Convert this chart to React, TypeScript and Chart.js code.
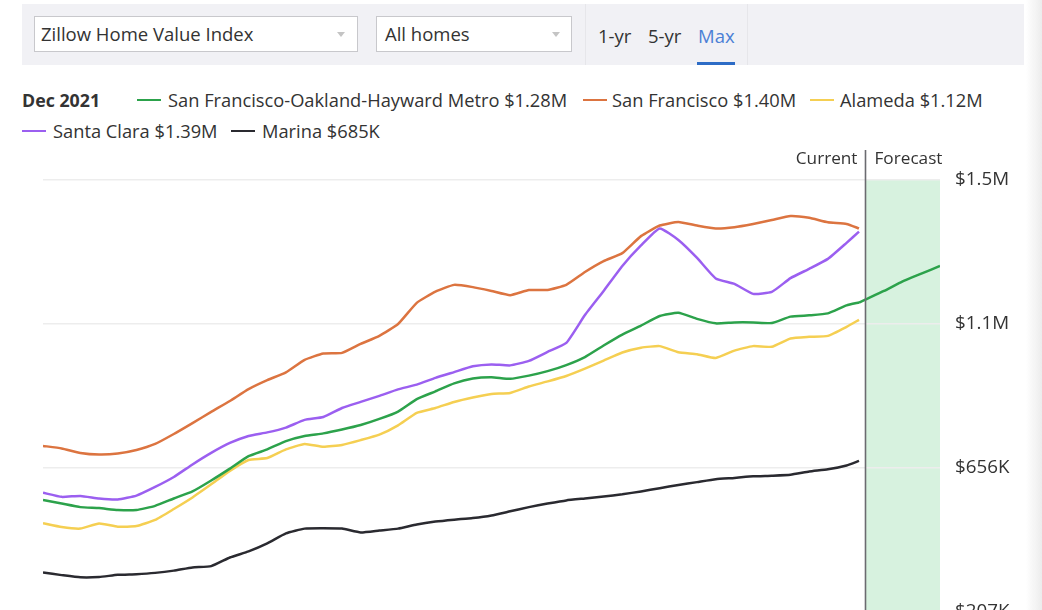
import React, { useEffect, useRef } from "react";
import { Chart, registerables } from "chart.js";
Chart.register(...registerables);

// ---------- data (values in $K) ----------
const historyDates: string[] = [
  "2011-01", "2011-04", "2011-07", "2011-10", "2012-01", "2012-04", "2012-07", "2012-10",
  "2013-01", "2013-04", "2013-07", "2013-10", "2014-01", "2014-04", "2014-07", "2014-10",
  "2015-01", "2015-04", "2015-07", "2015-10", "2016-01", "2016-04", "2016-07", "2016-10",
  "2017-01", "2017-04", "2017-07", "2017-10", "2018-01", "2018-04", "2018-07", "2018-10",
  "2019-01", "2019-04", "2019-07", "2019-10", "2020-01", "2020-04", "2020-07", "2020-10",
  "2021-01", "2021-04", "2021-07", "2021-10", "2021-12",
];

const metroValues: number[] = [
  556, 545, 534, 531, 525, 525, 538, 561, 583, 617, 654, 693, 714, 740, 756, 764,
  776, 790, 809, 832, 871, 895, 920, 935, 939, 934, 944, 958, 977, 1002, 1038, 1072,
  1100, 1130, 1140, 1121, 1107, 1110, 1110, 1108, 1128, 1132, 1138, 1163, 1172,
];
const sanFranciscoValues: number[] = [
  725, 717, 703, 698, 701, 712, 731, 762, 796, 831, 865, 902, 930, 954, 993, 1013,
  1015, 1043, 1068, 1105, 1171, 1206, 1227, 1220, 1208, 1195, 1211, 1211, 1227, 1267, 1301, 1326,
  1379, 1412, 1423, 1412, 1403, 1407, 1417, 1429, 1442, 1436, 1422, 1417, 1403,
];
const alamedaValues: number[] = [
  484, 472, 467, 483, 473, 475, 494, 528, 564, 605, 647, 681, 687, 714, 731, 722,
  728, 743, 760, 789, 828, 843, 862, 876, 887, 890, 910, 926, 943, 966, 991, 1016,
  1031, 1036, 1017, 1011, 999, 1022, 1036, 1034, 1060, 1065, 1068, 1096, 1118,
];
const santaClaraValues: number[] = [
  579, 566, 569, 561, 558, 570, 597, 628, 667, 703, 734, 756, 767, 782, 806, 815,
  843, 862, 881, 901, 916, 937, 955, 973, 979, 976, 990, 1018, 1046, 1133, 1208, 1286,
  1350, 1403, 1367, 1311, 1247, 1230, 1199, 1205, 1248, 1277, 1308, 1358, 1393,
];
const marinaValues: number[] = [
  330, 322, 315, 316, 323, 325, 329, 336, 346, 350, 377, 396, 421, 452, 467, 468,
  467, 455, 461, 467, 480, 489, 495, 500, 508, 521, 534, 545, 555, 561, 567, 574,
  583, 593, 603, 612, 621, 625, 630, 632, 635, 645, 652, 664, 678,
];

const forecastDates: string[] = ["2021-12", "2022-01", "2022-04", "2022-07", "2022-10", "2023-01"];
const metroForecast: number[] = [1172, 1181, 1208, 1238, 1262, 1286];
const forecastStartDate = "2022-01";

const yTicks: number[] = [207, 656, 1105, 1554];

const seriesNames: string[] = [
  "San Francisco-Oakland-Hayward Metro",
  "San Francisco",
  "Alameda",
  "Santa Clara",
  "Marina",
];
const legendValues: string[] = ["$1.28M", "$1.40M", "$1.12M", "$1.39M", "$685K"];
const seriesColors: string[] = ["#2ca24b", "#dc7440", "#f5cf52", "#9b5ff0", "#2a2a30"];
const legendDate = "Dec 2021";

// ---------- helpers ----------
const monthIndex = (s: string) => {
  const [y, m] = s.split("-").map(Number);
  return (y - 2011) * 12 + (m - 1);
};
const toPoints = (dates: string[], vals: number[]) =>
  dates.map((d, i) => ({ x: monthIndex(d), y: vals[i] }));

const fmtTick = (v: number) =>
  v >= 1000 ? "$" + (Math.floor(v / 100) / 10).toFixed(1) + "M" : "$" + Math.round(v) + "K";

const FONT = "'Open Sans', sans-serif";

const ChartCanvas: React.FC = () => {
  const ref = useRef<HTMLCanvasElement | null>(null);
  useEffect(() => {
    if (!ref.current) return;
    const forecastX = monthIndex(forecastStartDate);
    const overlay = {
      id: "forecastOverlay",
      beforeDraw(chart: any) {
        const { ctx, chartArea, scales } = chart;
        const x0 = scales.x.getPixelForValue(forecastX);
        ctx.save();
        ctx.fillStyle = "#d7f2df";
        ctx.fillRect(x0, chartArea.top, chartArea.right - x0, chart.height - chartArea.top);
        ctx.restore();
      },
      afterDraw(chart: any) {
        const { ctx, scales } = chart;
        const x0 = Math.round(scales.x.getPixelForValue(forecastX)) + 0.5;
        ctx.save();
        ctx.strokeStyle = "#6b6b70";
        ctx.lineWidth = 1.6;
        ctx.beginPath();
        ctx.moveTo(x0, 10);
        ctx.lineTo(x0, chart.height);
        ctx.stroke();
        ctx.fillStyle = "#333";
        ctx.font = "17.2px " + FONT;
        ctx.textBaseline = "middle";
        ctx.textAlign = "right";
        ctx.fillText("Current", x0 - 8, 19);
        ctx.textAlign = "left";
        ctx.fillText("Forecast", x0 + 9, 19);
        ctx.restore();
      },
    };
    const hist = [metroValues, sanFranciscoValues, alamedaValues, santaClaraValues, marinaValues];
    const datasets: any[] = hist.map((vals, i) => ({
      label: seriesNames[i],
      data: toPoints(historyDates, vals),
      borderColor: seriesColors[i],
      borderWidth: 2.5,
      pointRadius: 0,
      tension: 0.15,
      fill: false,
    }));
    datasets.push({
      label: seriesNames[0] + " forecast",
      data: toPoints(forecastDates, metroForecast),
      borderColor: seriesColors[0],
      borderWidth: 2.5,
      pointRadius: 0,
      tension: 0.15,
      fill: false,
    });
    const chart = new Chart(ref.current, {
      type: "line",
      data: { datasets },
      options: {
        animation: false,
        responsive: false,
        maintainAspectRatio: false,
        layout: { padding: { left: 43, top: 40, bottom: 28, right: 0 } },
        plugins: { legend: { display: false }, tooltip: { enabled: false } },
        scales: {
          x: { type: "linear", min: 0, max: 144, display: false },
          y: {
            position: "right",
            min: yTicks[0],
            max: yTicks[yTicks.length - 1],
            afterBuildTicks: (s: any) => {
              s.ticks = yTicks.map((v) => ({ value: v }));
            },
            afterFit: (s: any) => {
              s.width = 102;
            },
            border: { display: false },
            grid: { color: "#ededed", lineWidth: 1.5, drawTicks: false },
            ticks: {
              padding: 15,
              color: "#333",
              font: { family: FONT, size: 18.8 },
              callback: (v: any) => fmtTick(Number(v)),
            },
          },
        },
      },
      plugins: [overlay],
    });
    return () => chart.destroy();
  }, []);
  return (
    <canvas
      ref={ref}
      width={1042}
      height={500}
      style={{ position: "absolute", left: 0, top: 140, width: 1042, height: 500 }}
    />
  );
};

const Arrow: React.FC<{ left: number }> = ({ left }) => (
  <div
    style={{
      position: "absolute",
      left,
      top: 32,
      width: 0,
      height: 0,
      borderLeft: "4px solid transparent",
      borderRight: "4px solid transparent",
      borderTop: "5px solid #c4c4c4",
    }}
  />
);

const legendPos = [
  { row: 0, marker: 137, text: 168 },
  { row: 0, marker: 583, text: 612 },
  { row: 0, marker: 810, text: 840 },
  { row: 1, marker: 22, text: 53 },
  { row: 1, marker: 231, text: 262 },
];
const rowY = [100, 131];

export default function App() {
  const txt: React.CSSProperties = {
    position: "absolute",
    fontFamily: FONT,
    fontSize: 18.5,
    color: "#333",
    lineHeight: "20px",
    whiteSpace: "nowrap",
  };
  return (
    <div
      style={{
        position: "absolute",
        left: 0,
        top: 0,
        width: 1042,
        height: 610,
        overflow: "hidden",
        background: "#fff",
        fontFamily: FONT,
      }}
    >
      {/* control bar */}
      <div style={{ position: "absolute", left: 22, top: 4, width: 1002, height: 61, background: "#f1f1f5" }} />
      <div style={{ position: "absolute", left: 585, top: 4, width: 1, height: 61, background: "#e6e6ea" }} />
      <div style={{ position: "absolute", left: 747, top: 4, width: 1, height: 61, background: "#e6e6ea" }} />
      <div
        style={{
          position: "absolute",
          left: 34,
          top: 16,
          width: 322,
          height: 34,
          background: "#fff",
          border: "1px solid #c8c8cc",
        }}
      />
      <div style={{ ...txt, left: 41, top: 24 }}>Zillow Home Value Index</div>
      <Arrow left={337} />
      <div
        style={{
          position: "absolute",
          left: 376,
          top: 16,
          width: 194,
          height: 34,
          background: "#fff",
          border: "1px solid #c8c8cc",
        }}
      />
      <div style={{ ...txt, left: 385, top: 24 }}>All homes</div>
      <Arrow left={552} />
      <div style={{ ...txt, left: 598, top: 26 }}>1-yr</div>
      <div style={{ ...txt, left: 648, top: 26 }}>5-yr</div>
      <div style={{ ...txt, left: 698, top: 26, color: "#4b80d6" }}>Max</div>
      <div style={{ position: "absolute", left: 697, top: 62, width: 38, height: 2.5, background: "#2d6cc6" }} />

      {/* legend */}
      <div style={{ ...txt, left: 22, top: rowY[0] - 10, fontWeight: 700, fontSize: 17.8 }}>{legendDate}</div>
      {seriesNames.map((name, i) => {
        const p = legendPos[i];
        const y = rowY[p.row];
        return (
          <React.Fragment key={name}>
            <div
              style={{
                position: "absolute",
                left: p.marker,
                top: y - 1.5,
                width: 24,
                height: 2.5,
                background: seriesColors[i],
              }}
            />
            <div style={{ ...txt, left: p.text, top: y - 10, fontSize: 18.3 }}>
              {name} {legendValues[i]}
            </div>
          </React.Fragment>
        );
      })}

      <ChartCanvas />

      {/* right edge shade */}
      <div
        style={{
          position: "absolute",
          left: 1026,
          top: 0,
          width: 16,
          height: 610,
          background: "linear-gradient(to right, rgba(240,240,240,0), rgba(236,236,236,1))",
        }}
      />
    </div>
  );
}
